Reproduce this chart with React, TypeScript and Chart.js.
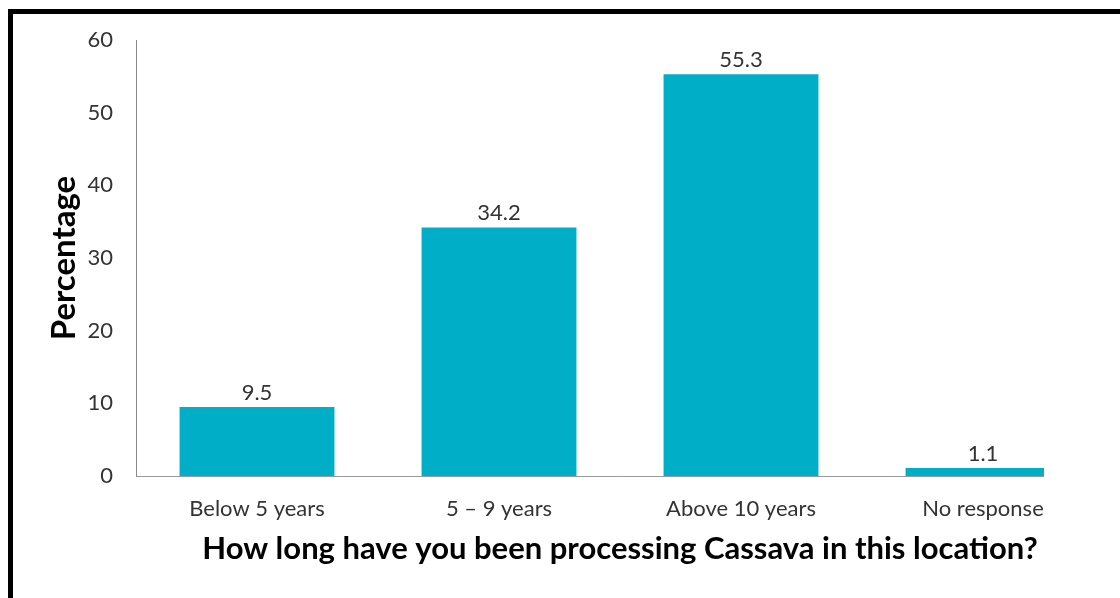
import React, { useEffect, useRef } from "react";
import { Chart, registerables } from "chart.js";

Chart.register(...registerables);

const categories = ["Below 5 years", "5 – 9 years", "Above 10 years", "No response"];
const percentages = [9.5, 34.2, 55.3, 1.1];
const yTicks = [0, 10, 20, 30, 40, 50, 60];
const xTitle = "How long have you been processing Cassava in this location?";
const yTitle = "Percentage";

const FONT = "Lato, 'Open Sans', sans-serif";

const valueLabels = {
  id: "valueLabels",
  afterDatasetsDraw(chart: any) {
    const { ctx } = chart;
    const meta = chart.getDatasetMeta(0);
    ctx.save();
    ctx.font = `22px ${FONT}`;
    ctx.fillStyle = "#333333";
    ctx.textAlign = "center";
    ctx.textBaseline = "alphabetic";
    meta.data.forEach((bar: any, i: number) => {
      ctx.fillText(String(percentages[i]), bar.x, bar.y - 7);
    });
    ctx.restore();
  },
};

export default function App() {
  const ref = useRef<HTMLCanvasElement | null>(null);
  useEffect(() => {
    if (!ref.current) return;
    const chart = new Chart(ref.current, {
      type: "bar",
      data: {
        labels: categories,
        datasets: [
          {
            data: percentages,
            backgroundColor: "#00AEC7",
            borderWidth: 0,
            categoryPercentage: 1,
            barPercentage: 0.64,
          },
        ],
      },
      options: {
        animation: false,
        responsive: false,
        maintainAspectRatio: false,
        layout: { padding: { top: 26, right: 16, left: 0, bottom: 0 } },
        plugins: { legend: { display: false }, tooltip: { enabled: false } },
        scales: {
          x: {
            grid: { display: false, drawTicks: false },
            border: { display: true, color: "#9a9a9a", width: 1 },
            ticks: { color: "#333333", font: { family: FONT, size: 22 }, padding: 20, maxRotation: 0, autoSkip: false },
            title: {
              display: true,
              text: xTitle,
              color: "#000000",
              font: { family: FONT, size: 31, weight: "bold" },
              padding: { top: 0, bottom: 30 },
            },
            afterFit: (s: any) => {
              s.height = 122;
            },
          },
          y: {
            min: 0,
            max: 60,
            afterBuildTicks: (s: any) => {
              s.ticks = yTicks.map((v) => ({ value: v }));
            },
            grid: { display: false, drawTicks: false },
            border: { display: true, color: "#8a8a8a", width: 1 },
            ticks: { color: "#333333", font: { family: FONT, size: 22 }, padding: 23 },
            title: {
              display: true,
              text: yTitle,
              color: "#000000",
              font: { family: FONT, size: 33, weight: "bold" },
              padding: { top: 32, bottom: 0 },
            },
            afterFit: (s: any) => {
              s.width = 123;
              s.paddingTop = 12;
              s.paddingBottom = 12;
            },
          },
        },
      },
      plugins: [valueLabels],
    });
    return () => chart.destroy();
  }, []);

  return (
    <div
      style={{
        position: "fixed",
        left: 8,
        top: 9,
        width: 1200,
        height: 700,
        borderTop: "5px solid #000",
        borderLeft: "5px solid #000",
        background: "#fff",
        overflow: "hidden",
      }}
    >
      <div style={{ position: "absolute", left: 0, top: 0, width: 1031, height: 584, overflow: "hidden" }}>
        <canvas ref={ref} width={1107} height={584} style={{ display: "block", width: 1107, height: 584 }} />
      </div>
    </div>
  );
}
